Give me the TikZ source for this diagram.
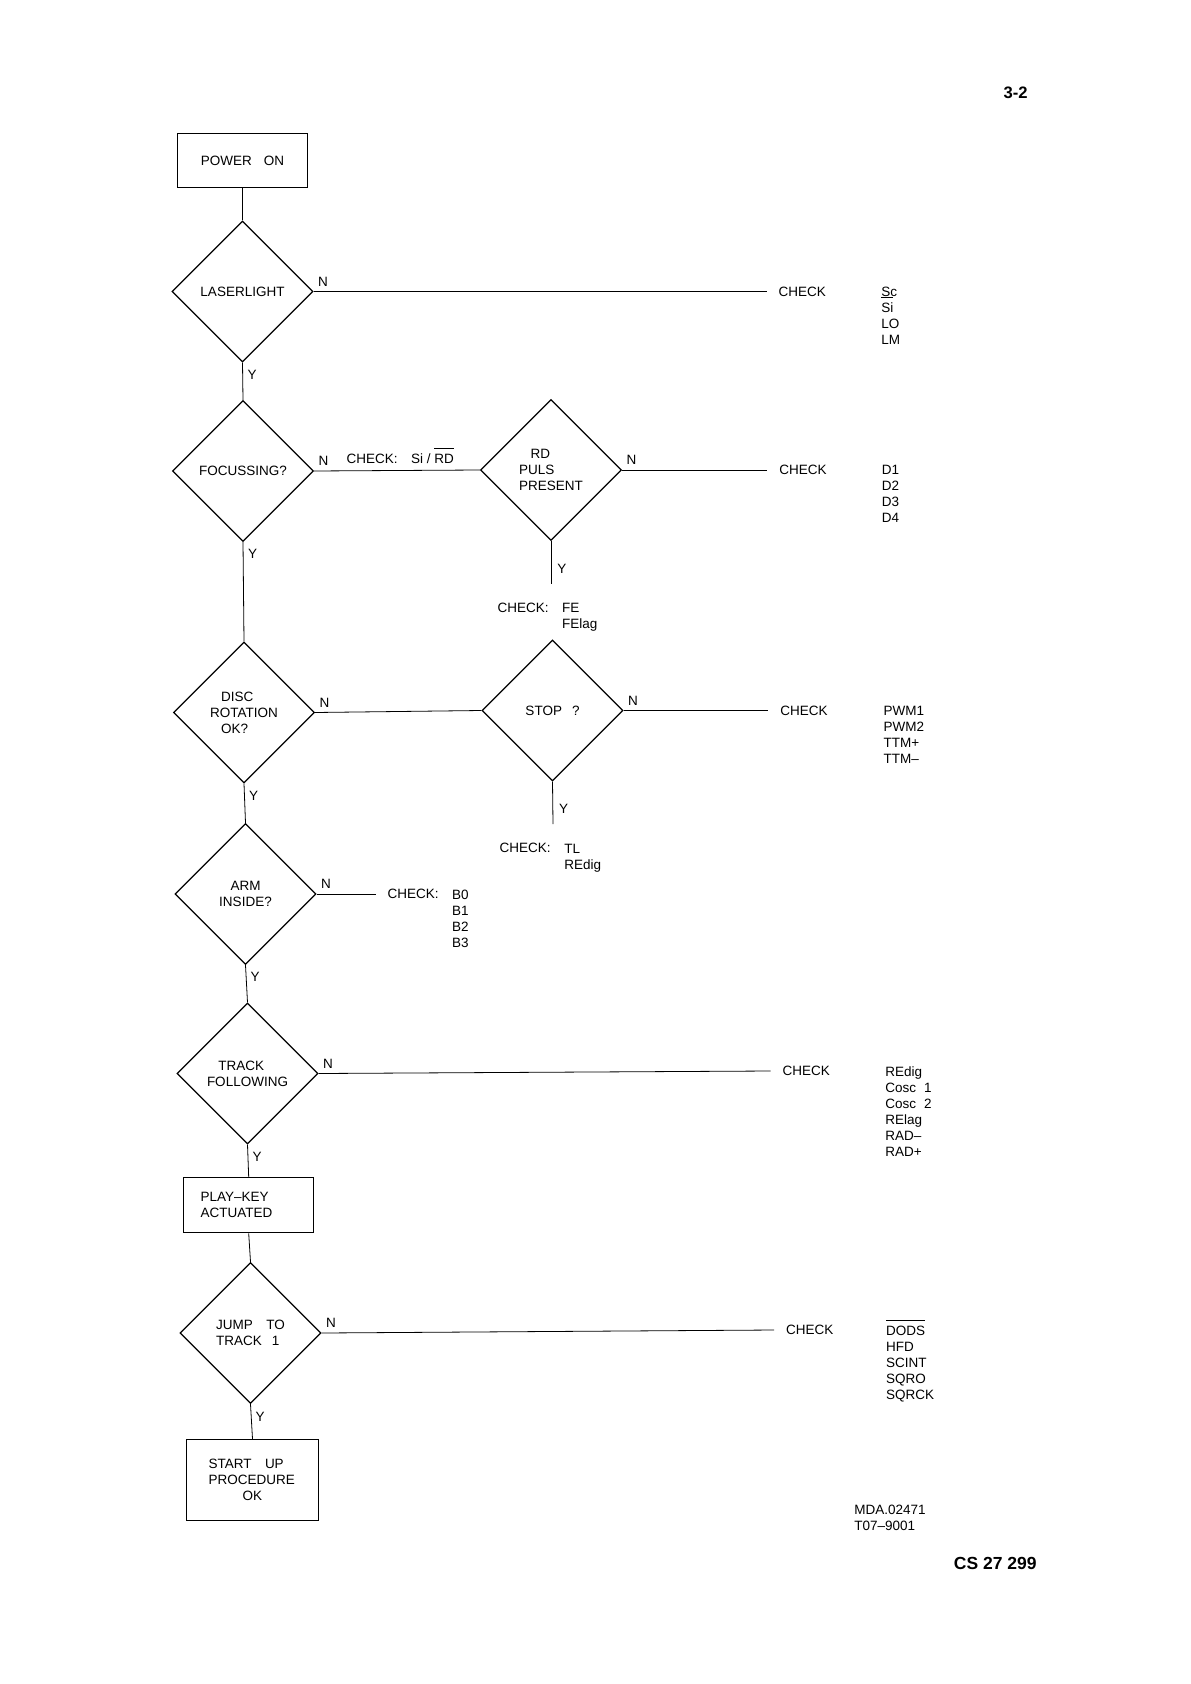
\documentclass[tikz,border=0pt]{standalone}
\usepackage{fontspec}
\setmainfont{Liberation Sans}
\usetikzlibrary{shapes.geometric}

\newsavebox\barbox
\newcommand{\barred}[1]{\sbox\barbox{#1}%
  \rlap{\smash{\raisebox{\dimexpr\ht\barbox+2.5pt\relax}{\rule{\wd\barbox}{0.45pt}}}}\usebox\barbox}

\begin{document}
\begin{tikzpicture}[x=0.5pt, y=-0.5pt,
    every node/.style={font=\fontsize{6.75}{8}\selectfont},
    stepbox/.style={draw, semithick, minimum width=65pt, minimum height=27pt},
    query/.style={draw, semithick, diamond, aspect=1, minimum size=70.5pt, inner sep=0pt},
    nlab/.style={anchor=south west, inner sep=0pt, xshift=2pt, yshift=2.5pt},
    ylab/.style={anchor=north west, inner sep=0pt, xshift=2.3pt, yshift=-3.6pt},
    ystub/.style={right, pos=0.64, inner sep=3pt},
    chk/.style={anchor=west, inner xsep=5.8pt, inner ysep=0pt},
    txt/.style={anchor=west, inner sep=0pt},
    lst/.style={anchor=north west, inner sep=0pt, align=left}]
	\useasboundingbox (0,0) rectangle (1190,1684);

	% main column
	\node[stepbox] (power) at (242.5,160.5) {POWER\hspace{6pt}ON};
	\node[query] (laser) at (242.5,291.5) {LASERLIGHT};
	\node[query] (focus) at (243,471) {FOCUSSING?};
	\node[query, align=left] (disc) at (244,712.5) {\hspace*{5.5pt}DISC\\ROTATION\\\hspace*{5.5pt}OK?};
	\node[query, align=center] (arm) at (245.5,894) {ARM\\INSIDE?};
	\node[query, align=left] (track) at (247.5,1073.5) {\hspace*{5.7pt}TRACK\\FOLLOWING};
	\node[stepbox, minimum height=27.5pt, text width=48pt, align=left] (play) at (248.7,1205.3) {PLAY--KEY\\ACTUATED};
	\node[query, align=left] (jump) at (250.5,1333) {JUMP\quad TO\\TRACK\hspace{5pt}1};
	\node[stepbox, minimum width=66pt, minimum height=40.5pt, text width=44pt, align=left] (start) at (252.5,1480) {START\quad UP\\PROCEDURE\\\hspace*{17pt}OK};

	% side column
	\node[query, align=left] (rdpuls) at (551,470) {\hspace*{5.75pt}RD\\PULS\\PRESENT};
	\node[query] (stop) at (552.5,710.5) {STOP\hspace{5pt}?};
	\coordinate (rdy) at (551,584);
	\coordinate (stopy) at (553,824);

	% checks
	\node[chk] (c1) at (766.7,291.5) {CHECK};
	\node[lst] (l1) at (881,286.7) {Sc\\\barred{Si}\\LO\\LM};
	\node[chk] (c2) at (767.4,470) {CHECK};
	\node[lst] (l2) at (881.4,465.2) {D1\\D2\\D3\\D4};
	\node[txt] (cfe) at (497.3,607.5) {CHECK:};
	\node[lst] (lfe) at (561.7,602.7) {FE\\FElag};
	\node[chk] (c3) at (768.3,710.5) {CHECK};
	\node[lst] (l3) at (883.3,705.7) {PWM1\\PWM2\\TTM+\\TTM--};
	\node[txt] (ctl) at (499.3,848.3) {CHECK:};
	\node[lst] (ltl) at (564,843.5) {TL\\REdig};
	\node[chk] (c4) at (375.7,894) {CHECK:};
	\node[lst] (l4) at (451.7,889.2) {B0\\B1\\B2\\B3};
	\node[chk] (c5) at (770.7,1071) {CHECK};
	\node[lst] (l5) at (885,1066.2) {REdig\\Cosc\hspace{4pt}1\\Cosc\hspace{4pt}2\\RElag\\RAD--\\RAD+};
	\node[chk] (c6) at (774,1330) {CHECK};
	\node[lst] (l6) at (885.7,1325.2) {\barred{DODS}\\HFD\\SCINT\\SQRO\\SQRCK};

	% connectors
	\draw (power) -- (laser);
	\draw (laser.east) node[nlab] {N} -- (c1.west);
	\draw (laser.south) node[ylab] {Y} -- (focus.north);
	\draw (focus.east) node[nlab] {N} -- node[above, pos=0.52] {CHECK:\quad Si / \barred{RD}} (rdpuls.west);
	\draw (rdpuls.east) node[nlab] {N} -- (c2.west);
	\draw (rdpuls.south) -- node[ystub] {Y} (rdy);
	\draw (focus.south) node[ylab] {Y} -- (disc.north);
	\draw (disc.east) node[nlab] {N} -- (stop.west);
	\draw (stop.east) node[nlab] {N} -- (c3.west);
	\draw (stop.south) -- node[ystub] {Y} (stopy);
	\draw (disc.south) node[ylab] {Y} -- (arm.north);
	\draw (arm.east) node[nlab] {N} -- (c4.west);
	\draw (arm.south) node[ylab] {Y} -- (track.north);
	\draw (track.east) node[nlab] {N} -- (c5.west);
	\draw (track.south) node[ylab] {Y} -- (play.north);
	\draw (play.south) -- (jump.north);
	\draw (jump.east) node[nlab] {N} -- (c6.west);
	\draw (jump.south) node[ylab] {Y} -- (start.north);

	% page marks
	\node[font=\fontsize{8.3}{10}\selectfont\bfseries] (page) at (1015.7,92.7) {3-2};
	\node[lst] (mda) at (854,1504.5) {MDA.02471\\T07--9001};
	\node[font=\fontsize{8.75}{10}\selectfont\bfseries] (docno) at (995.3,1563.3) {CS 27 299};
\end{tikzpicture}
\end{document}
